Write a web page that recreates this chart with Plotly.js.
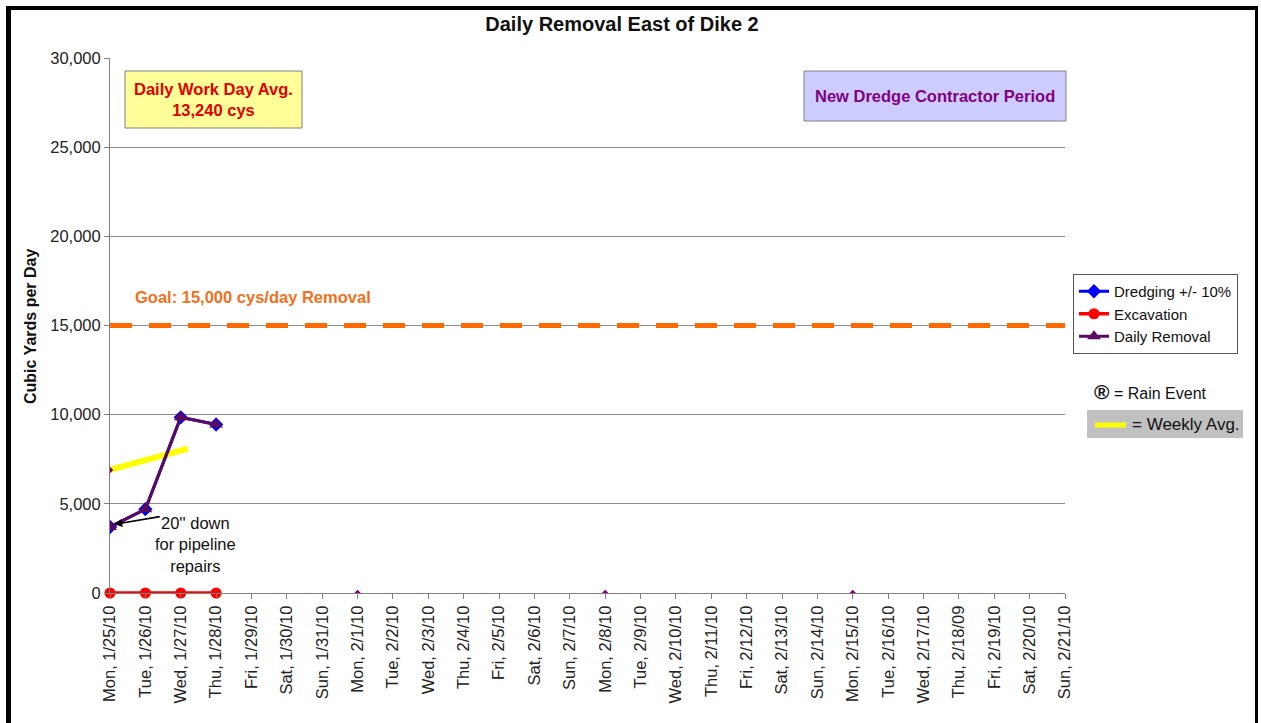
<!DOCTYPE html>
<html>
<head>
<meta charset="utf-8">
<script src="https://cdn.plot.ly/plotly-3.0.1.min.js"></script>
<style>
  html, body { margin:0; padding:0; background:#fff; }
  #chart { width:1261px; height:723px; }
  #frame { position:absolute; left:6px; top:6px; width:1244px; height:730px;
           border-left:5px solid #000; border-top:4px solid #000; border-right:3px solid #000;
           pointer-events:none; }
</style>
</head>
<body>
<div id="chart"></div>
<div id="frame"></div>
<script>
// ---------- DATA ----------
const dayLabels = [
  "Mon, 1/25/10","Tue, 1/26/10","Wed, 1/27/10","Thu, 1/28/10","Fri, 1/29/10","Sat, 1/30/10","Sun, 1/31/10",
  "Mon, 2/1/10","Tue, 2/2/10","Wed, 2/3/10","Thu, 2/4/10","Fri, 2/5/10","Sat, 2/6/10","Sun, 2/7/10",
  "Mon, 2/8/10","Tue, 2/9/10","Wed, 2/10/10","Thu, 2/11/10","Fri, 2/12/10","Sat, 2/13/10","Sun, 2/14/10",
  "Mon, 2/15/10","Tue, 2/16/10","Wed, 2/17/10","Thu, 2/18/09","Fri, 2/19/10","Sat, 2/20/10","Sun, 2/21/10"
];
const dayIndex = dayLabels.map((d, i) => i);

const dredging     = [3700, 4700, 9850, 9450];
const excavation   = [0, 0, 0, 0];
const dailyRemoval = [3700, 4700, 9850, 9450];

const goalValue = 15000;
const goalLine = dayLabels.map(() => goalValue);

const weeklyAvgMarkerX = [0, 7, 14, 21];
const weeklyAvgMarkerY = [6900, 0, 0, 0];

const weeklyTrendX = [0, 2.2];
const weeklyTrendY = [6900, 8100];

const yTicks = [0, 5000, 10000, 15000, 20000, 25000, 30000];

// ---------- LAYOUT HELPERS ----------
const L = 110, R = 1065, T = 58, B = 593;
const px = p => (p - L) / (R - L);
const py = p => (B - p) / (B - T);
const FONT = "Liberation Sans, Arial, sans-serif";

const traces = [
  { x: weeklyTrendX, y: weeklyTrendY, mode: 'lines', line: {color:'#ffff00', width:6},
    showlegend:false, hoverinfo:'skip' },
  { x: dayIndex, y: goalLine, mode: 'lines', line: {color:'#ff6a00', width:5, dash:'22px,17px'},
    showlegend:false, hoverinfo:'skip' },
  { x: weeklyAvgMarkerX, y: weeklyAvgMarkerY, mode:'markers',
    marker:{symbol:'diamond', size:5, color:'#800080'}, showlegend:false },
  { name:'Dredging +/- 10%', x: dayIndex.slice(0, dredging.length), y: dredging, mode:'lines+markers',
    line:{color:'#0000ff', width:3}, marker:{symbol:'diamond', size:11, color:'#0000ff'} },
  { name:'Excavation', x: dayIndex.slice(0, excavation.length), y: excavation, mode:'lines+markers',
    line:{color:'#ff0000', width:3.5}, marker:{symbol:'circle', size:11, color:'#ff0000'},
    cliponaxis:false },
  { name:'Daily Removal', x: dayIndex.slice(0, dailyRemoval.length), y: dailyRemoval, mode:'lines+markers',
    line:{color:'#5a0a5e', width:3}, marker:{symbol:'triangle-up', size:12, color:'#5a0a5e'} }
];

function note(xp, yp, text, size, color, extra) {
  return Object.assign({ xref:'paper', yref:'paper', x:px(xp), y:py(yp), text:text,
    showarrow:false, xanchor:'center', yanchor:'middle', font:{size:size, color:color} }, extra || {});
}

const layout = {
  width:1261, height:723,
  margin:{l:L, r:1261-R, t:T, b:723-B},
  paper_bgcolor:'#ffffff', plot_bgcolor:'#ffffff',
  font:{family:FONT, size:16, color:'#222'},
  title:{ text:'<b>Daily Removal East of Dike 2</b>', font:{family:FONT, size:20, color:'#111'},
          x:622/1261, xref:'container', xanchor:'center', y:1-24/723, yref:'container', yanchor:'middle' },
  xaxis:{ range:[0, 27], tickmode:'array', tickvals:dayIndex, ticktext:dayLabels, tickangle:-90,
          showgrid:false, zeroline:false, showline:true, linecolor:'#808080', linewidth:1,
          ticks:'outside', ticklen:5, tickcolor:'#808080', tickfont:{size:16.5, color:'#222'}, fixedrange:true },
  yaxis:{ range:[0, 30000], tickmode:'array', tickvals:yTicks, tickformat:',',
          showgrid:true, gridcolor:'#8c8c8c', gridwidth:1, zeroline:false,
          showline:true, linecolor:'#808080', linewidth:1,
          ticks:'outside', ticklen:5, tickcolor:'#808080', tickfont:{size:16.5, color:'#222'} },
  legend:{ x:px(1073), y:py(274), xanchor:'left', yanchor:'top', bgcolor:'#ffffff',
           bordercolor:'#555', borderwidth:1, font:{size:15, color:'#111'},
           tracegroupgap:0, itemwidth:30 },
  shapes:[
    { type:'rect', xref:'paper', yref:'paper', x0:px(125), x1:px(302), y0:py(71), y1:py(128),
      fillcolor:'#ffff99', line:{color:'#808080', width:1} },
    { type:'rect', xref:'paper', yref:'paper', x0:px(804), x1:px(1066), y0:py(71), y1:py(121),
      fillcolor:'#ccccff', line:{color:'#808080', width:1} },
    { type:'rect', xref:'paper', yref:'paper', x0:px(1087), x1:px(1243), y0:py(410), y1:py(438),
      fillcolor:'#c0c0c0', line:{width:0} },
    { type:'line', xref:'paper', yref:'paper', x0:px(1095), x1:px(1126), y0:py(425), y1:py(425),
      line:{color:'#ffff00', width:5} }
  ],
  annotations:[
    note(213, 99, '<b>Daily Work Day Avg.<br>13,240 cys</b>', 16.5, '#e00000'),
    note(935, 96, '<b>New Dredge Contractor Period</b>', 16.5, '#800080'),
    note(133, 297, '<b>Goal: 15,000 cys/day Removal</b>', 16.5, '#f07020', {xanchor:'left'}),
    note(30, 327, '<b>Cubic Yards per Day</b>', 16, '#111', {textangle:-90}),
    note(1092, 392, '<span style="font-size:21px"><b>®</b></span> = Rain Event', 16, '#111', {xanchor:'left'}),
    note(1130, 424, '= Weekly Avg.', 17, '#111', {xanchor:'left'}),
    note(195, 544, '20\'\' down<br>for pipeline<br>repairs', 16.5, '#111'),
    { xref:'x', yref:'y', x:0.12, y:3850, ax:47, ay:-8, axref:'pixel', ayref:'pixel', text:'',
      showarrow:true, arrowhead:2, arrowsize:1, arrowwidth:1.6, arrowcolor:'#000' }
  ]
};

Plotly.newPlot('chart', traces, layout, {displayModeBar:false, staticPlot:true});
</script>
</body>
</html>
